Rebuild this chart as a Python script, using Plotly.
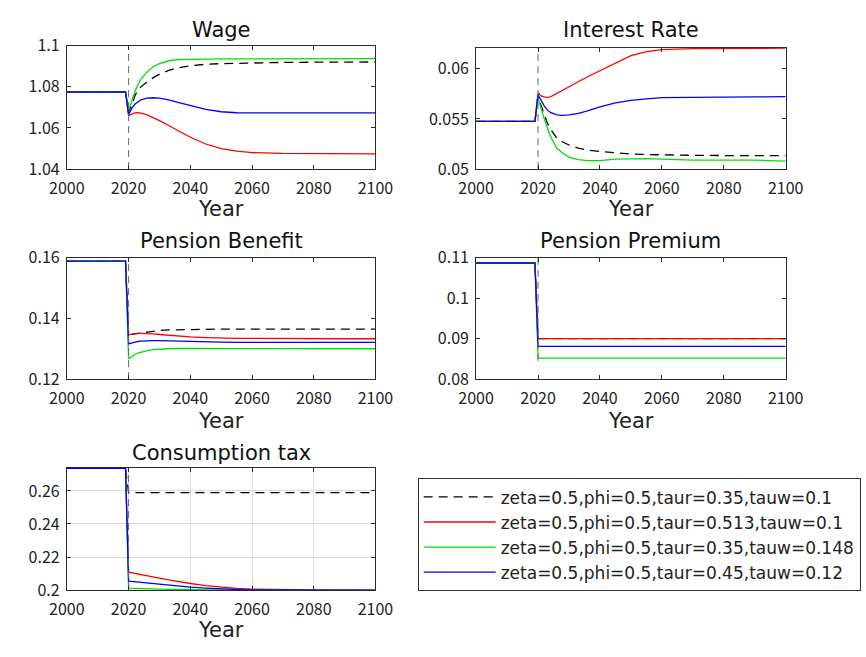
import plotly.graph_objects as go

# ---------------- data ----------------
YEARS = [2000, 2019, 2020, 2021, 2022, 2023, 2024, 2026, 2028, 2030, 2033,
         2036, 2040, 2045, 2050, 2055, 2060, 2070, 2080, 2090, 2100]

SERIES_NAMES = [
    "zeta=0.5,phi=0.5,taur=0.35,tauw=0.1",
    "zeta=0.5,phi=0.5,taur=0.513,tauw=0.1",
    "zeta=0.5,phi=0.5,taur=0.35,tauw=0.148",
    "zeta=0.5,phi=0.5,taur=0.45,tauw=0.12",
]

wage_base = [1.0775, 1.0775, 1.0680, 1.0710, 1.0755, 1.0785, 1.0800, 1.0825, 1.0845, 1.0862, 1.0880,
             1.0893, 1.0902, 1.0910, 1.0913, 1.0915, 1.0917, 1.0919, 1.0920, 1.0921, 1.0921]
wage_red = [1.0775, 1.0775, 1.0660, 1.0668, 1.0673, 1.0674, 1.0672, 1.0664, 1.0651, 1.0636, 1.0612,
            1.0586, 1.0555, 1.0522, 1.0500, 1.0487, 1.0480, 1.0476, 1.0475, 1.0474, 1.0474]
wage_green = [1.0775, 1.0775, 1.0685, 1.0735, 1.0775, 1.0810, 1.0838, 1.0873, 1.0898, 1.0913, 1.0927,
              1.0933, 1.0935, 1.0935, 1.0936, 1.0936, 1.0936, 1.0936, 1.0937, 1.0937, 1.0937]
wage_blue = [1.0775, 1.0775, 1.0665, 1.0695, 1.0715, 1.0728, 1.0737, 1.0745, 1.0747, 1.0745, 1.0737,
             1.0725, 1.0708, 1.0690, 1.0679, 1.0674, 1.0673, 1.0673, 1.0673, 1.0673, 1.0673]

rate_base = [0.05475, 0.05475, 0.0572, 0.0563, 0.0553, 0.0546, 0.0540, 0.0531, 0.0527, 0.0524, 0.0521,
             0.0519, 0.05175, 0.0516, 0.0515, 0.05145, 0.0514, 0.05137, 0.05135, 0.05134, 0.05134]
rate_red = [0.05475, 0.05475, 0.0576, 0.0573, 0.0572, 0.05715, 0.0572, 0.05755, 0.0579, 0.0582, 0.0587,
            0.0592, 0.0598, 0.0606, 0.0613, 0.0617, 0.0619, 0.06200, 0.06203, 0.06205, 0.06205]
rate_green = [0.05475, 0.05475, 0.0571, 0.0560, 0.0550, 0.0541, 0.0533, 0.0521, 0.0516, 0.0512, 0.05095,
              0.05085, 0.05085, 0.0510, 0.05105, 0.05105, 0.0510, 0.0509, 0.0509, 0.0509, 0.0508]
rate_blue = [0.05475, 0.05475, 0.0574, 0.0568, 0.0563, 0.0559, 0.05565, 0.0554, 0.05535, 0.0554, 0.05555,
             0.0558, 0.0562, 0.0566, 0.05685, 0.0570, 0.05712, 0.05715, 0.0572, 0.0572, 0.05722]

benefit_base = [0.1589, 0.1589, 0.1346, 0.1347, 0.1349, 0.1350, 0.1352, 0.1355, 0.1358, 0.1360, 0.1362,
                0.1363, 0.1364, 0.1364, 0.1365, 0.1365, 0.1365, 0.1365, 0.1365, 0.1365, 0.1365]
benefit_red = [0.1589, 0.1589, 0.1346, 0.1348, 0.1350, 0.1351, 0.1351, 0.1351, 0.1349, 0.1347, 0.1344,
               0.1342, 0.1339, 0.1337, 0.1335, 0.1334, 0.1334, 0.1333, 0.1333, 0.1333, 0.1333]
benefit_green = [0.1589, 0.1589, 0.1267, 0.1275, 0.1281, 0.1286, 0.1289, 0.1294, 0.1297, 0.1299, 0.1300,
                 0.1301, 0.1301, 0.1301, 0.1301, 0.1301, 0.1300, 0.1300, 0.1300, 0.1300, 0.1300]
benefit_blue = [0.1589, 0.1589, 0.1316, 0.1319, 0.1322, 0.1324, 0.1325, 0.1327, 0.1327, 0.1327, 0.1326,
                0.1325, 0.1324, 0.1323, 0.1322, 0.1321, 0.1321, 0.1321, 0.1321, 0.1321, 0.1321]

premium_base = [0.1087, 0.1087, 0.0900, 0.0900, 0.0900, 0.0900, 0.0900, 0.0900, 0.0900, 0.0900, 0.0900,
                0.0900, 0.0900, 0.0900, 0.0900, 0.0900, 0.0900, 0.0900, 0.0900, 0.0900, 0.0900]
premium_red = [0.1087, 0.1087, 0.0900, 0.0900, 0.0900, 0.0900, 0.0900, 0.0900, 0.0900, 0.0900, 0.0900,
               0.0900, 0.0900, 0.0900, 0.0900, 0.0900, 0.0900, 0.0900, 0.0900, 0.0900, 0.0900]
premium_green = [0.1087, 0.1087, 0.0852, 0.0852, 0.0852, 0.0852, 0.0852, 0.0852, 0.0852, 0.0852, 0.0852,
                 0.0852, 0.0852, 0.0852, 0.0852, 0.0852, 0.0852, 0.0852, 0.0852, 0.0852, 0.0852]
premium_blue = [0.1087, 0.1087, 0.0881, 0.0881, 0.0881, 0.0881, 0.0881, 0.0881, 0.0881, 0.0881, 0.0881,
                0.0881, 0.0881, 0.0881, 0.0881, 0.0881, 0.0881, 0.0881, 0.0881, 0.0881, 0.0881]

ctax_base = [0.2737, 0.2737, 0.2590, 0.2590, 0.2590, 0.2590, 0.2590, 0.2590, 0.2590, 0.2590, 0.2590,
             0.2590, 0.2590, 0.2590, 0.2590, 0.2590, 0.2590, 0.2590, 0.2590, 0.2590, 0.2590]
ctax_red = [0.2737, 0.2737, 0.2108, 0.2104, 0.2100, 0.2097, 0.2093, 0.2086, 0.2079, 0.2072, 0.2062,
            0.2052, 0.2040, 0.2027, 0.2017, 0.2010, 0.2006, 0.2002, 0.2001, 0.2000, 0.2000]
ctax_green = [0.2737, 0.2737, 0.2012, 0.2011, 0.2010, 0.2010, 0.2009, 0.2008, 0.2007, 0.2006, 0.2005,
              0.2004, 0.2002, 0.2001, 0.2001, 0.2000, 0.2000, 0.2000, 0.2000, 0.2000, 0.2000]
ctax_blue = [0.2737, 0.2737, 0.2054, 0.2052, 0.2050, 0.2048, 0.2046, 0.2042, 0.2038, 0.2034, 0.2029,
             0.2024, 0.2018, 0.2012, 0.2007, 0.2004, 0.2002, 0.2001, 0.2000, 0.2000, 0.2000]

PANEL_TITLES = ["Wage", "Interest Rate", "Pension Benefit", "Pension Premium", "Consumption tax"]
X_TICKS = [2000, 2020, 2040, 2060, 2080, 2100]
Y_TICKS = [
    [1.04, 1.06, 1.08, 1.1],
    [0.05, 0.055, 0.06],
    [0.12, 0.14, 0.16],
    [0.08, 0.09, 0.1, 0.11],
    [0.2, 0.22, 0.24, 0.26],
]
Y_TICK_TEXT = [
    ["1.04", "1.06", "1.08", "1.1"],
    ["0.05", "0.055", "0.06"],
    ["0.12", "0.14", "0.16"],
    ["0.08", "0.09", "0.1", "0.11"],
    ["0.2", "0.22", "0.24", "0.26"],
]
Y_RANGES = [[1.04, 1.1], [0.05, 0.0621], [0.12, 0.16], [0.08, 0.11], [0.2, 0.274]]
REFORM_YEAR = 2020
# vertical marker extents per panel
VLINE_SPANS = [[1.04, 1.1], [0.05, 0.0621], [0.12, 0.16], [0.0845, 0.11], [0.2, 0.274]]

PANEL_DATA = [
    [wage_base, wage_red, wage_green, wage_blue],
    [rate_base, rate_red, rate_green, rate_blue],
    [benefit_base, benefit_red, benefit_green, benefit_blue],
    [premium_base, premium_red, premium_green, premium_blue],
    [ctax_base, ctax_red, ctax_green, ctax_blue],
]

# ---------------- styling ----------------
W, H = 866, 657
TICK_FONT = "Noto Sans CJK JP, Noto Sans, sans-serif"
TEXT_FONT = "DejaVu Sans, Noto Sans, sans-serif"
COLORS = ["#000000", "#ff0000", "#00e000", "#0000ff"]
DASHES = ["9px,6px", "solid", "solid", "solid"]

# panel boxes in pixels: (left, right, top, bottom)
BOXES = [
    (51, 373, 34, 162),
    (478, 801, 36, 162),
    (51, 373, 254, 380),
    (478, 801, 254, 380),
    (51, 373, 472, 599),
]
GRID = [False, False, False, False, True]
TITLE_Y = [18, 18, 237, 237, 457]
YEAR_Y = [203, 203, 423, 423, 640]


def px_x(p):
    return p / W


def px_y(p):
    return 1 - p / H


fig = go.Figure()
annotations = []
layout_axes = {}

for i in range(5):
    n = "" if i == 0 else str(i + 1)
    xa, ya = "x" + n, "y" + n
    for j in range(4):
        fig.add_trace(go.Scatter(
            x=YEARS, y=PANEL_DATA[i][j], xaxis=xa, yaxis=ya, mode="lines",
            line=dict(color=COLORS[j], width=1.3, dash=DASHES[j]),
            name=SERIES_NAMES[j], legendgroup=SERIES_NAMES[j], showlegend=(i == 0),
        ))
    fig.add_trace(go.Scatter(
        x=[REFORM_YEAR, REFORM_YEAR], y=VLINE_SPANS[i], xaxis=xa, yaxis=ya, mode="lines",
        line=dict(color="#666666", width=1, dash="7px,5px"), showlegend=False, hoverinfo="skip",
    ))
    l, r, t, b = BOXES[i]
    common = dict(
        showline=True, linecolor="#2b2b2b", linewidth=1, mirror="ticks",
        ticks="inside", ticklen=4, tickcolor="#2b2b2b", tickwidth=1,
        tickfont=dict(family=TICK_FONT, size=16, color="#222222"),
        showgrid=GRID[i], gridcolor="#dcdcdc", gridwidth=1, zeroline=False,
    )
    layout_axes["xaxis" + n] = dict(
        common, domain=[px_x(l), px_x(r)], anchor=ya, range=[2000, 2100],
        tickvals=X_TICKS, ticktext=[str(v) for v in X_TICKS], ticklabelstandoff=5,
    )
    layout_axes["yaxis" + n] = dict(
        common, domain=[px_y(b), px_y(t)], anchor=xa, range=Y_RANGES[i],
        tickvals=Y_TICKS[i], ticktext=Y_TICK_TEXT[i], ticklabelstandoff=3,
    )
    cx = px_x((l + r) / 2)
    annotations.append(dict(
        text=PANEL_TITLES[i], x=cx, y=px_y(TITLE_Y[i]), xref="paper", yref="paper",
        xanchor="center", yanchor="middle", showarrow=False,
        font=dict(family=TEXT_FONT, size=21, color="#111111"),
    ))
    annotations.append(dict(
        text="Year", x=cx, y=px_y(YEAR_Y[i]), xref="paper", yref="paper",
        xanchor="center", yanchor="middle", showarrow=False,
        font=dict(family=TEXT_FONT, size=21, color="#222222"),
    ))

fig.update_layout(
    width=W, height=H, margin=dict(l=0, r=0, t=0, b=0),
    paper_bgcolor="white", plot_bgcolor="white",
    annotations=annotations,
    showlegend=True,
    legend=dict(
        x=px_x(417), y=px_y(483), xanchor="left", yanchor="top",
        bordercolor="#333333", borderwidth=1, bgcolor="white",
        font=dict(family=TEXT_FONT, size=17, color="#222222"),
        tracegroupgap=0, itemwidth=72,
    ),
    **layout_axes,
)

fig.write_html("out.html", config={"displayModeBar": False},
               post_script="document.body.style.margin='0px';")
